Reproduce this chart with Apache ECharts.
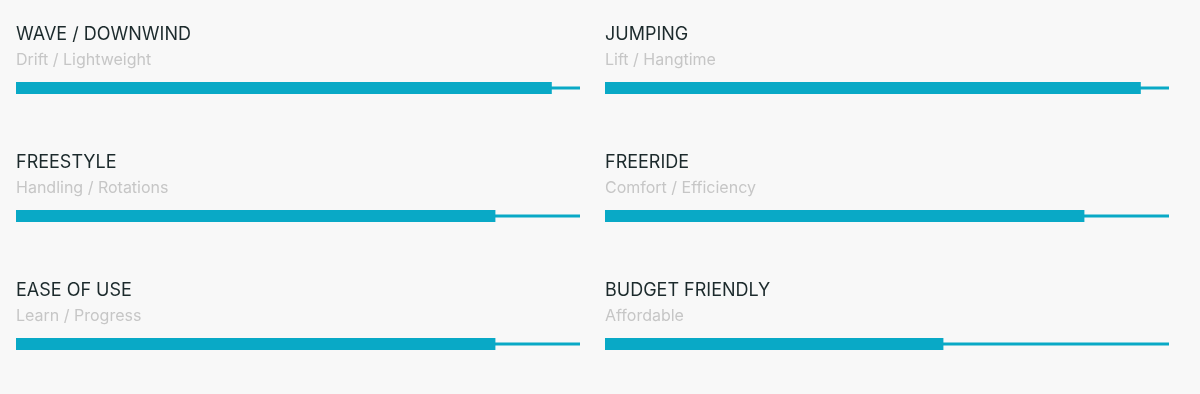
<!DOCTYPE html>
<html>
<head>
<meta charset="utf-8">
<script src="https://cdn.jsdelivr.net/npm/echarts@6/dist/echarts.min.js"></script>
<style>
html,body{margin:0;padding:0;background:#f8f8f8;}
#chart{width:1200px;height:394px;}
</style>
</head>
<body>
<div id="chart"></div>
<script>
const categories = ['WAVE / DOWNWIND', 'JUMPING', 'FREESTYLE', 'FREERIDE', 'EASE OF USE', 'BUDGET FRIENDLY'];
const subtitles = ['Drift / Lightweight', 'Lift / Hangtime', 'Handling / Rotations', 'Comfort / Efficiency', 'Learn / Progress', 'Affordable'];
const values = [95, 95, 85, 85, 85, 60];
const maxValue = 100;

const colLeft = [16, 605];
const colWidth = 564;
const rowBarCenter = [88, 216, 344];
const barColor = '#09a9c6';

const titles = [], grids = [], xAxes = [], yAxes = [], series = [];
categories.forEach((cat, i) => {
  const col = i % 2, row = Math.floor(i / 2);
  const left = colLeft[col];
  const cy = rowBarCenter[row];
  titles.push({
    text: cat,
    subtext: subtitles[i],
    left: left,
    top: cy - 64,
    padding: 0,
    itemGap: 4,
    textStyle: {fontFamily: 'Inter', fontSize: 18, fontWeight: 'normal', color: '#1c2a2c', lineHeight: 22},
    subtextStyle: {fontFamily: 'Inter', fontSize: 16, color: '#c6c6c6', lineHeight: 20}
  });
  grids.push({left: left, width: colWidth, top: cy - 6, height: 12});
  xAxes.push({gridIndex: i, type: 'value', min: 0, max: maxValue, show: false});
  yAxes.push({gridIndex: i, type: 'category', data: [cat], show: false});
  yAxes.push({gridIndex: i, type: 'category', data: [cat], show: false});
  series.push({
    type: 'bar', xAxisIndex: i, yAxisIndex: 2 * i, data: [maxValue],
    barWidth: 3, itemStyle: {color: barColor}, silent: true, z: 1
  });
  series.push({
    type: 'bar', xAxisIndex: i, yAxisIndex: 2 * i + 1, data: [values[i]],
    barWidth: 12, itemStyle: {color: barColor}, silent: true, z: 2
  });
});

const chart = echarts.init(document.getElementById('chart'));
chart.setOption({
  backgroundColor: '#f8f8f8',
  animation: false,
  title: titles,
  grid: grids,
  xAxis: xAxes,
  yAxis: yAxes,
  series: series
});
</script>
</body>
</html>
